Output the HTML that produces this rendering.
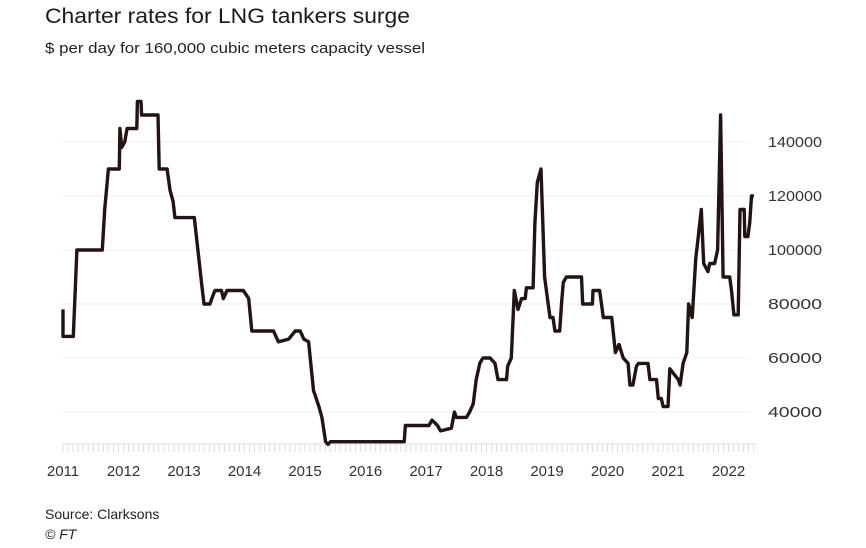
<!DOCTYPE html>
<html><head><meta charset="utf-8"><style>
body{margin:0;background:#fff;width:866px;height:543px;overflow:hidden;font-family:"Liberation Sans",sans-serif}
</style></head><body>
<svg id="chart" width="866" height="543" xmlns="http://www.w3.org/2000/svg">
<text x="45" y="23" font-size="21" fill="#1a1a1a" textLength="365" lengthAdjust="spacingAndGlyphs">Charter rates for LNG tankers surge</text>
<text x="45" y="53" font-size="15" fill="#222" textLength="380" lengthAdjust="spacingAndGlyphs">$ per day for 160,000 cubic meters capacity vessel</text>
<g id="grid"></g><g id="ticks"></g><g id="labels"></g>
<path id="line" fill="none" stroke="#231414" stroke-width="3.4" stroke-linejoin="round"/>
<text x="45" y="519" font-size="14" fill="#222">Source: Clarksons</text>
<text x="45" y="539" font-size="14" font-style="italic" fill="#222">© FT</text>
</svg>
<script>
const years=[2011,2012,2013,2014,2015,2016,2017,2018,2019,2020,2021,2022];
const yTicks=[40000,60000,80000,100000,120000,140000];
const dates=[2011.0,2011.0,2011.17,2011.23,2011.65,2011.69,2011.75,2011.93,2011.94,2011.97,2012.02,2012.06,2012.22,2012.23,2012.29,2012.3,2012.57,2012.59,2012.72,2012.77,2012.82,2012.85,2013.17,2013.29,2013.33,2013.43,2013.46,2013.51,2013.62,2013.65,2013.71,2013.98,2014.07,2014.12,2014.48,2014.56,2014.73,2014.84,2014.92,2014.98,2015.06,2015.14,2015.23,2015.28,2015.34,2015.38,2015.42,2016.64,2016.66,2017.05,2017.1,2017.19,2017.24,2017.42,2017.47,2017.5,2017.67,2017.72,2017.78,2017.83,2017.89,2017.94,2018.06,2018.14,2018.19,2018.33,2018.35,2018.41,2018.46,2018.52,2018.58,2018.64,2018.66,2018.77,2018.8,2018.84,2018.9,2018.96,2019.02,2019.05,2019.1,2019.13,2019.21,2019.24,2019.27,2019.32,2019.57,2019.59,2019.75,2019.76,2019.87,2019.9,2019.93,2020.07,2020.13,2020.19,2020.26,2020.34,2020.37,2020.42,2020.48,2020.51,2020.67,2020.7,2020.81,2020.84,2020.89,2020.92,2021.0,2021.03,2021.17,2021.2,2021.25,2021.31,2021.34,2021.4,2021.46,2021.5,2021.55,2021.59,2021.66,2021.69,2021.77,2021.82,2021.87,2021.91,2022.02,2022.05,2022.09,2022.16,2022.19,2022.26,2022.27,2022.32,2022.35,2022.38,2022.42];
const values=[78000,68000,68000,100000,100000,115000,130000,130000,145000,138000,140000,145000,145000,155000,155000,150000,150000,130000,130000,122000,118000,112000,112000,88000,80000,80000,82000,85000,85000,82000,85000,85000,82000,70000,70000,66000,67000,70000,70000,67000,66000,48000,42000,38000,29000,28000,29000,29000,35000,35000,37000,35000,33000,34000,40000,38000,38000,40000,43000,52000,58000,60000,60000,58000,52000,52000,57000,60000,85000,78000,82000,82000,86000,86000,110000,125000,130000,90000,80000,75000,75000,70000,70000,80000,88000,90000,90000,80000,80000,85000,85000,80000,75000,75000,62000,65000,60000,58000,50000,50000,57000,58000,58000,52000,52000,45000,45000,42000,42000,56000,52000,50000,58000,62000,80000,75000,97000,105000,115000,95000,92000,95000,95000,100000,150000,90000,90000,85000,76000,76000,115000,115000,105000,105000,110000,120000,120000];
const NS='http://www.w3.org/2000/svg';
const xS=d=>63+(d-2011)*60.5;
const yS=v=>142+(140000-v)*0.0027;
const g=document.getElementById('grid'),tk=document.getElementById('ticks'),lb=document.getElementById('labels');
yTicks.forEach(v=>{
 const l=document.createElementNS(NS,'line');
 
 
 l.setAttribute('x1',62);l.setAttribute('x2',750);l.setAttribute('y1',yS(v));l.setAttribute('y2',yS(v));
 l.setAttribute('stroke','#f0ecec');l.setAttribute('stroke-width',1);g.appendChild(l);
 const t=document.createElementNS(NS,'text');
 
 
 t.setAttribute('x',768);t.setAttribute('y',yS(v)+5);t.setAttribute('font-size',15);t.setAttribute('fill','#333');
 t.setAttribute('textLength',54);t.setAttribute('lengthAdjust','spacingAndGlyphs');
 t.textContent=v;lb.appendChild(t);
});
const base=document.createElementNS(NS,'line');


base.setAttribute('x1',62);base.setAttribute('x2',757);base.setAttribute('y1',444);base.setAttribute('y2',444);
base.setAttribute('stroke','#ddd');tk.appendChild(base);
for(let m=0;m<=137;m++){
 const x=xS(2011+m/12);
 const l=document.createElementNS(NS,'line');
 
 
 l.setAttribute('x1',x);l.setAttribute('x2',x);l.setAttribute('y1',444);l.setAttribute('y2',452);
 l.setAttribute('stroke','#ddd');tk.appendChild(l);
}
years.forEach(y=>{
 const t=document.createElementNS(NS,'text');
 
 
 t.setAttribute('x',xS(y));t.setAttribute('y',476);t.setAttribute('font-size',15);t.setAttribute('fill','#333');t.setAttribute('text-anchor','middle');
 t.textContent=y;lb.appendChild(t);
});
document.getElementById('line').setAttribute('d',dates.map((d,i)=>(i?'L':'M')+xS(d).toFixed(1)+','+yS(values[i]).toFixed(1)).join(''));
</script>
</body></html>
